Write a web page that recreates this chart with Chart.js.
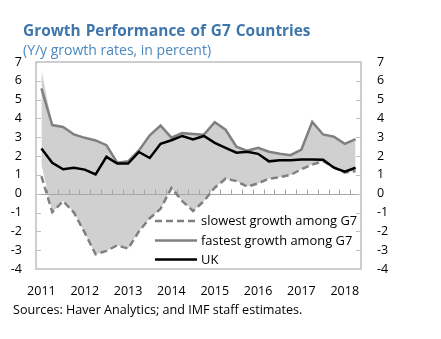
<!DOCTYPE html>
<html>
<head>
<meta charset="utf-8">
<script src="https://cdn.jsdelivr.net/npm/chart.js@4/dist/chart.umd.min.js"></script>
<style>
  html,body{margin:0;padding:0;background:#fff;}
  #wrap{position:relative;width:441px;height:339px;overflow:hidden;}
  #c{position:absolute;left:0;top:0;}
  .txt{position:absolute;white-space:nowrap;font-family:"Open Sans",sans-serif;}
  #title{left:23px;top:22px;font-size:15.4px;line-height:18px;font-weight:bold;color:#3f76ab;word-spacing:1px;}
  #sub{left:23px;top:41px;font-size:14px;line-height:17px;color:#4a86c0;}
  #src{left:13px;top:302px;font-size:12.6px;line-height:16px;color:#000;}
</style>
</head>
<body>
<div id="wrap">
  <canvas id="c" width="441" height="339"></canvas>
  <div class="txt" id="title">Growth Performance of G7 Countries</div>
  <div class="txt" id="sub">(Y/y growth rates, in percent)</div>
  <div class="txt" id="src">Sources: Haver Analytics; and IMF staff estimates.</div>
</div>
<script>
// ---- data ----
const years = ["2011","2012","2013","2014","2015","2016","2017","2018"];
const quarters = ["Q1","Q2","Q3","Q4"];
const categories = [];
years.forEach(y => quarters.forEach(q => categories.push(y + q)));
categories.length = 30; // 2011Q1 .. 2018Q2

const fastest = [5.6, 3.65, 3.55, 3.15, 2.97, 2.83, 2.58, 1.65, 1.72, 2.3,
                 3.1, 3.62, 2.98, 3.22, 3.18, 3.14, 3.8, 3.4, 2.5, 2.28,
                 2.44, 2.23, 2.12, 2.05, 2.35, 3.82, 3.15, 3.03, 2.65, 2.9];
const slowest = [0.93, -0.98, -0.39, -1.0, -2.07, -3.22, -3.04, -2.74, -2.92, -2.0,
                 -1.3, -0.8, 0.3, -0.39, -0.92, -0.39, 0.32, 0.8, 0.67, 0.38,
                 0.55, 0.8, 0.88, 1.0, 1.3, 1.55, 1.73, 1.4, 1.13, 1.2];
const uk = [2.4, 1.64, 1.3, 1.38, 1.28, 1.03, 1.96, 1.6, 1.6, 2.22,
            1.9, 2.65, 2.84, 3.07, 2.88, 3.07, 2.7, 2.44, 2.18, 2.23,
            2.12, 1.72, 1.78, 1.78, 1.82, 1.82, 1.8, 1.38, 1.17, 1.38];
// shaded range (max/min among G7)
const rangeHigh = [6.6, 3.65, 3.55, 3.15, 2.97, 2.83, 2.58, 1.65, 1.72, 2.3,
                   3.1, 3.62, 2.98, 3.22, 3.18, 3.14, 3.8, 3.4, 2.5, 2.28,
                   2.44, 2.23, 2.12, 2.05, 2.35, 3.82, 3.15, 3.03, 2.65, 2.9];
const rangeLow = [1.55, -0.98, -0.39, -1.0, -2.07, -3.22, -3.04, -2.74, -2.92, -2.0,
                  -1.3, -0.8, 0.3, -0.39, -0.92, -0.39, 0.32, 0.8, 0.67, 0.38,
                  0.55, 0.8, 0.88, 1.0, 1.3, 1.55, 1.73, 1.4, 1.13, 1.2];
const yTicks = {min: -4, max: 7, step: 1};
const legendItems = ["slowest growth among G7", "fastest growth among G7", "UK"];

const FONT = "'Open Sans', sans-serif";
const GRAY = "#808080";
const FRAME = "#bfbfbf";

const decor = {
  id: 'decor',
  afterDatasetDraw(chart, args) {
    if (args.index !== 1) return;
    const {ctx, chartArea: a, scales: {x, y}} = chart;
    const y0 = Math.round(y.getPixelForValue(0)) + 0.5;
    ctx.save();
    ctx.strokeStyle = "#a6a6a6";
    ctx.lineWidth = 1;
    ctx.beginPath();
    ctx.moveTo(a.left, y0); ctx.lineTo(a.right, y0);
    const half = (x.getPixelForValue(1) - x.getPixelForValue(0)) / 2;
    for (let i = 0; i < categories.length - 1; i++) {
      const px = Math.round(x.getPixelForValue(i) + half) + 0.5;
      ctx.moveTo(px, y0); ctx.lineTo(px, y0 - 5);
    }
    ctx.stroke();
    ctx.restore();
  },
  afterDraw(chart) {
    const {ctx, chartArea: a, scales: {y}} = chart;
    ctx.save();
    ctx.strokeStyle = FRAME;
    ctx.lineWidth = 1.5;
    ctx.strokeRect(a.left, a.top, a.right - a.left, a.bottom - a.top);
    ctx.lineWidth = 1;
    ctx.beginPath();
    for (let v = yTicks.min + 1; v < yTicks.max; v += yTicks.step) {
      const py = Math.round(y.getPixelForValue(v)) + 0.5;
      ctx.moveTo(a.left, py); ctx.lineTo(a.left + 5, py);
      ctx.moveTo(a.right, py); ctx.lineTo(a.right - 5, py);
    }
    ctx.stroke();
    // legend
    const styles = [
      {c: GRAY, dash: [7, 4], w: 2.5},
      {c: GRAY, dash: [], w: 2.5},
      {c: "#000", dash: [], w: 2.5}
    ];
    const lx0 = a.left + 119, lx1 = a.left + 161, tx = a.left + 165;
    const rows = [y.getPixelForValue(-1.45), y.getPixelForValue(-2.48), y.getPixelForValue(-3.5)];
    ctx.font = "12.9px " + FONT;
    ctx.textBaseline = "middle";
    ctx.fillStyle = "#000";
    legendItems.forEach((t, i) => {
      ctx.beginPath();
      ctx.strokeStyle = styles[i].c;
      ctx.lineWidth = styles[i].w;
      ctx.setLineDash(styles[i].dash);
      ctx.moveTo(lx0, rows[i]); ctx.lineTo(lx1, rows[i]);
      ctx.stroke();
      ctx.setLineDash([]);
      ctx.fillText(t, tx, rows[i] + 0.5);
    });
    ctx.restore();
  }
};

const tickFont = {family: FONT, size: 12.5};
new Chart(document.getElementById('c'), {
  type: 'line',
  data: {
    labels: categories,
    datasets: [
      {data: rangeHigh, borderColor: 'rgba(0,0,0,0)', borderWidth: 0, pointRadius: 0, fill: false, order: 11},
      {data: rangeLow, borderColor: 'rgba(0,0,0,0)', borderWidth: 0, pointRadius: 0, fill: '-1', backgroundColor: '#d0d0d1', order: 10},
      {label: legendItems[0], data: slowest, borderColor: GRAY, borderWidth: 2.5, borderDash: [7, 4], pointRadius: 0, fill: false, order: 2},
      {label: legendItems[1], data: fastest, borderColor: GRAY, borderWidth: 2.5, pointRadius: 0, fill: false, order: 1},
      {label: legendItems[2], data: uk, borderColor: '#000', borderWidth: 2.5, pointRadius: 0, fill: false, order: 0}
    ]
  },
  options: {
    responsive: false,
    animation: false,
    devicePixelRatio: 1,
    layout: {padding: {top: 62, left: 0, right: 0, bottom: 0}},
    elements: {line: {tension: 0, borderJoinStyle: 'miter'}},
    plugins: {legend: {display: false}, tooltip: {enabled: false}},
    scales: {
      x: {
        type: 'category', offset: true,
        grid: {display: false, drawTicks: false}, border: {display: false},
        ticks: {autoSkip: false, maxRotation: 0, padding: 15, color: '#000', font: tickFont,
                callback: (v, i) => (i % 4 === 0 ? years[i / 4] : '')},
        afterFit: s => { s.height = 70; }
      },
      y: {
        position: 'left', min: yTicks.min, max: yTicks.max,
        grid: {display: false, drawTicks: false}, border: {display: false},
        ticks: {stepSize: yTicks.step, padding: 14, color: '#000', font: tickFont},
        afterFit: s => { s.width = 36; }
      },
      y2: {
        position: 'right', min: yTicks.min, max: yTicks.max,
        grid: {display: false, drawTicks: false}, border: {display: false},
        ticks: {stepSize: yTicks.step, padding: 16, color: '#000', font: tickFont},
        afterFit: s => { s.width = 80; }
      }
    }
  },
  plugins: [decor]
});
</script>
</body>
</html>
